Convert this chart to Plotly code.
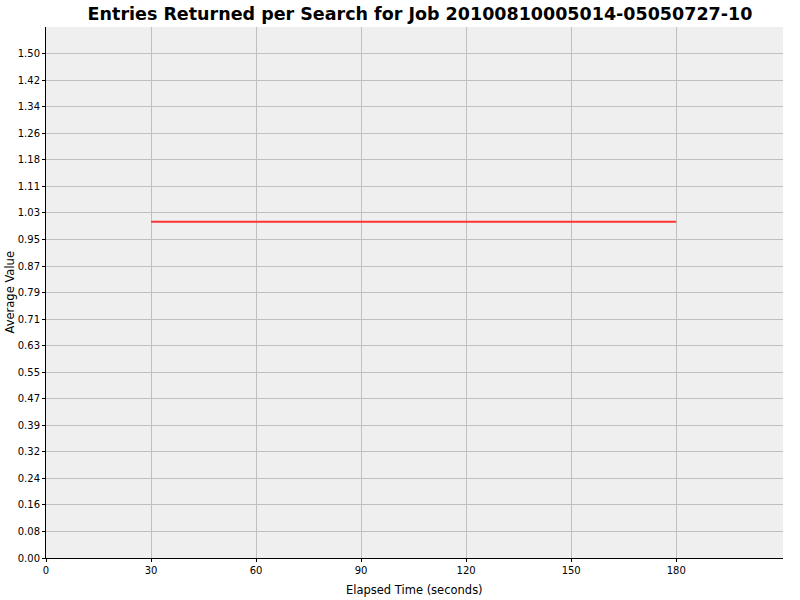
import plotly.graph_objects as go

# series data
elapsed_secs = [30, 60, 90, 120, 150, 180]
avg_value = [1.0, 1.0, 1.0, 1.0, 1.0, 1.0]

x_tick_vals = [0, 30, 60, 90, 120, 150, 180]
y_tick_labels = ["0.00", "0.08", "0.16", "0.24", "0.32", "0.39", "0.47", "0.55",
                 "0.63", "0.71", "0.79", "0.87", "0.95", "1.03", "1.11", "1.18",
                 "1.26", "1.34", "1.42", "1.50"]
y_max = 1.5

y_tick_vals = [i * y_max / (len(y_tick_labels) - 1) for i in range(len(y_tick_labels))]

FONT = "DejaVu Sans"
GRID = "#c0c0c0"
W, H = 800, 600
ML, MR, MT, MB = 46, 17, 27, 42

fig = go.Figure()
fig.add_trace(go.Scatter(
    x=elapsed_secs, y=avg_value, mode="lines",
    line=dict(color="#ff3333", width=2),
    showlegend=False,
))

fig.update_layout(
    width=W, height=H,
    paper_bgcolor="white",
    plot_bgcolor="#efefef",
    margin=dict(l=ML, r=MR, t=MT, b=MB, autoexpand=False),
    title=dict(
        text="<b>Entries Returned per Search for Job 20100810005014-05050727-10</b>",
        x=420 / W, xanchor="center",
        y=1 - 14 / H, yanchor="middle",
        font=dict(family=FONT, size=17.5, color="black"),
    ),
    font=dict(family=FONT, size=10, color="black"),
    annotations=[
        # axis titles placed by hand so the plot area keeps its margins
        dict(text="Elapsed Time (seconds)", xref="paper", yref="paper",
             x=0.5, y=-(590 - (H - MB)) / (H - MT - MB), yanchor="middle",
             showarrow=False, font=dict(family=FONT, size=11.5)),
        dict(text="Average Value", xref="paper", yref="paper",
             x=-(ML - 9) / (W - ML - MR), xanchor="center",
             y=0.5, textangle=-90,
             showarrow=False, font=dict(family=FONT, size=11.5)),
    ],
)

fig.update_xaxes(
    range=[0, 210.5],
    tickvals=x_tick_vals,
    ticks="outside", ticklen=3, tickcolor="black",
    showline=True, linecolor="black", linewidth=1,
    showgrid=True, gridcolor=GRID, gridwidth=1,
    zeroline=False, automargin=False,
    tickfont=dict(family=FONT, size=10),
)
fig.update_yaxes(
    range=[0, 1.5795],
    tickvals=y_tick_vals, ticktext=y_tick_labels,
    ticks="outside", ticklen=3, tickcolor="black",
    showline=True, linecolor="black", linewidth=1,
    showgrid=True, gridcolor=GRID, gridwidth=1,
    zeroline=False, automargin=False,
    tickfont=dict(family=FONT, size=10),
)

# drop the page's default body margin so the figure sits at the window's corner
fig.write_html("out.html", config={"displayModeBar": False},
               post_script="document.body.style.margin = '0';")
